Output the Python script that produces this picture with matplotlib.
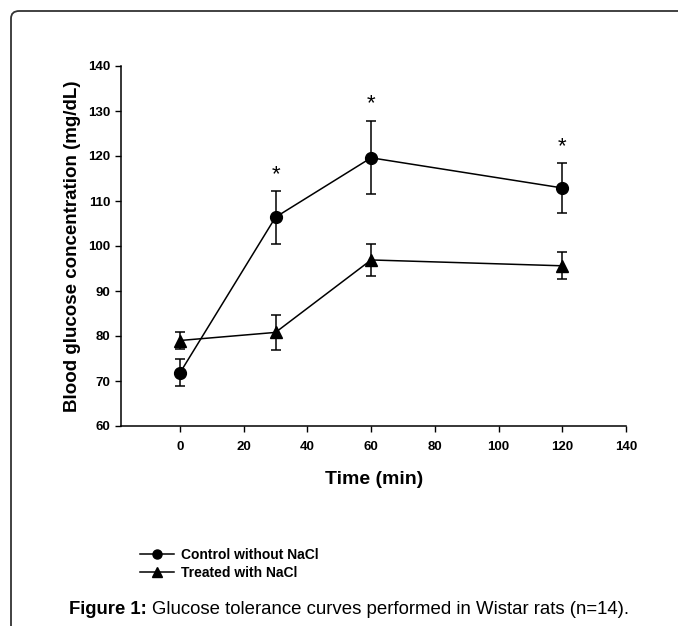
import matplotlib
matplotlib.use("Agg")
import matplotlib.pyplot as plt
from matplotlib.patches import FancyBboxPatch
from matplotlib.lines import Line2D

plt.rcParams['font.family'] = ['Liberation Sans', 'DejaVu Sans']

time = [0, 30, 60, 120]
control_mean = [71.8, 106.4, 119.6, 112.9]
control_err = [3.0, 5.9, 8.1, 5.5]
treated_mean = [79.0, 80.8, 96.9, 95.6]
treated_err = [1.8, 3.8, 3.5, 3.0]
star_times = [30, 60, 120]
star_levels = [115.8, 131.6, 122.0]

xticks = [0, 20, 40, 60, 80, 100, 120, 140]
yticks = [60, 70, 80, 90, 100, 110, 120, 130, 140]

W, H = 678, 626
fig = plt.figure(figsize=(W / 100, H / 100), dpi=100)

# rounded frame
frame = FancyBboxPatch((11 / W, -0.2), 1.2, (H - 11) / H + 0.2,
                       boxstyle="round,pad=0,rounding_size=0.012",
                       transform=fig.transFigure, fill=False,
                       edgecolor='#333333', linewidth=1.3, clip_on=False)
fig.patches.append(frame)

ax = fig.add_axes([121 / W, 1 - 426 / H, 505 / W, 360 / H])
ax.set_xlim(-18.5, 140)
ax.set_ylim(60, 140)

ekw = dict(color='black', linewidth=1.1, capsize=3.8, capthick=1.1,
           elinewidth=1.1, markeredgecolor='black', markerfacecolor='black')
ax.errorbar(time, control_mean, yerr=control_err, marker='o', markersize=8.5,
            label='Control without NaCl', **ekw)
ax.errorbar(time, treated_mean, yerr=treated_err, marker='^', markersize=8,
            label='Treated with NaCl', **ekw)

for t, lv in zip(star_times, star_levels):
    ax.text(t, lv, '*', ha='center', va='center', fontsize=16, color='black')

for s in ['top', 'right']:
    ax.spines[s].set_visible(False)
for s in ['left', 'bottom']:
    ax.spines[s].set_linewidth(1.1)
ax.set_xticks(xticks)
ax.set_yticks(yticks)
ax.tick_params(direction='out', length=4, width=1, labelsize=9.5)
ax.tick_params(axis='x', pad=7)
for lab in ax.get_xticklabels() + ax.get_yticklabels():
    lab.set_fontweight('bold')
ax.set_xlabel('Time (min)', fontsize=14, fontweight='bold')
ax.set_ylabel('Blood glucose concentration (mg/dL)', fontsize=13.5,
              fontweight='bold')
ax.xaxis.set_label_coords((374 - 121) / 505, (426 - 479) / 360)
ax.yaxis.set_label_coords((73 - 121) / 505, 0.5)
ax.xaxis.label.set_va('center')
ax.yaxis.label.set_va('center')

handles, labels = ax.get_legend_handles_labels()
h = [Line2D([], [], color='black', marker='o', markersize=6.5, linewidth=1.1),
     Line2D([], [], color='black', marker='^', markersize=6.5, linewidth=1.1)]
fig.legend(h, labels, loc='upper left', bbox_to_anchor=(140 / W, 1 - 548 / H),
           frameon=False, prop={'size': 10, 'weight': 'bold'},
           handlelength=2.45, handletextpad=0.5, labelspacing=0.3,
           borderpad=0, borderaxespad=0)

fig.text(69 / W, 1 - 609 / H, 'Figure 1:', fontsize=13.3, fontweight='bold',
         va='center', ha='left')
fig.text(152 / W, 1 - 609 / H,
         'Glucose tolerance curves performed in Wistar rats (n=14).',
         fontsize=13.4, va='center', ha='left')

fig.savefig('out.png', dpi=100, facecolor='white')
